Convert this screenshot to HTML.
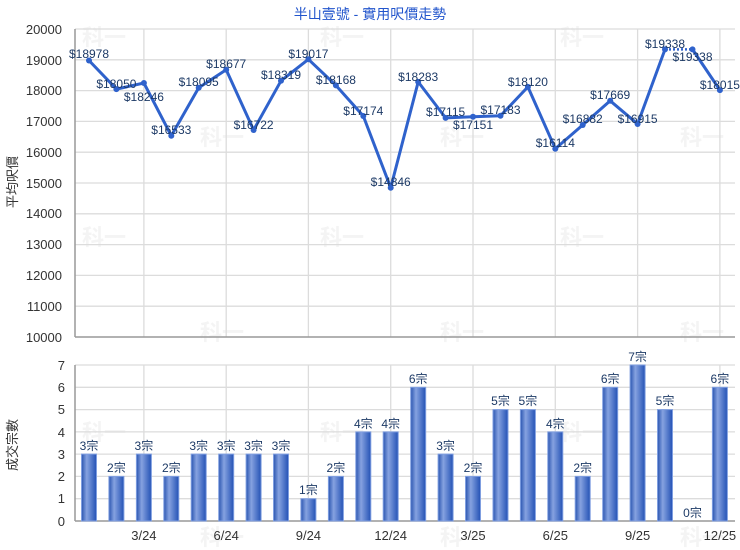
<!DOCTYPE html>
<html><head><meta charset="utf-8"><style>
body{margin:0;background:#fff;}
svg{display:block;font-family:"Liberation Sans","Noto Sans CJK TC",sans-serif;}
.g{stroke:#dcdcdc;stroke-width:1.3}
.t{font-size:13px;fill:#333;text-anchor:end}
.x{font-size:13px;fill:#333;text-anchor:middle}
.l{font-size:12px;fill:#1d3a66;text-anchor:middle}
.b{font-size:12px;fill:#1d3a66;text-anchor:middle}
.w{font-size:22px;fill:#f4f4f4;font-weight:bold}
</style></head><body>
<svg width="740" height="550" viewBox="0 0 740 550">
<defs><linearGradient id="bg" x1="0" x2="1" y1="0" y2="0">
<stop offset="0" stop-color="#2a55b0"/><stop offset="0.35" stop-color="#86a2e0"/><stop offset="1" stop-color="#2452b5"/></linearGradient></defs>
<text x="370" y="19" text-anchor="middle" font-size="14" fill="#2255cc">半山壹號 - 實用呎價走勢</text>
<g class="w">
<text x="82" y="45">科一</text><text x="320" y="45">科一</text><text x="560" y="45">科一</text>
<text x="200" y="145">科一</text><text x="440" y="145">科一</text><text x="680" y="145">科一</text>
<text x="82" y="245">科一</text><text x="320" y="245">科一</text><text x="560" y="245">科一</text>
<text x="200" y="340">科一</text><text x="440" y="340">科一</text><text x="680" y="340">科一</text>
<text x="82" y="440">科一</text><text x="320" y="440">科一</text><text x="560" y="440">科一</text>
<text x="200" y="545">科一</text><text x="440" y="545">科一</text><text x="680" y="545">科一</text>
</g>
<g class="g">
<line x1="75" x2="735" y1="29" y2="29"/><line x1="75" x2="735" y1="59.8" y2="59.8"/><line x1="75" x2="735" y1="90.6" y2="90.6"/><line x1="75" x2="735" y1="121.4" y2="121.4"/><line x1="75" x2="735" y1="152.2" y2="152.2"/><line x1="75" x2="735" y1="183" y2="183"/><line x1="75" x2="735" y1="213.8" y2="213.8"/><line x1="75" x2="735" y1="244.6" y2="244.6"/><line x1="75" x2="735" y1="275.4" y2="275.4"/><line x1="75" x2="735" y1="306.2" y2="306.2"/>
<line x1="143.9" x2="143.9" y1="29" y2="337"/><line x1="226.2" x2="226.2" y1="29" y2="337"/><line x1="308.4" x2="308.4" y1="29" y2="337"/><line x1="390.7" x2="390.7" y1="29" y2="337"/><line x1="473" x2="473" y1="29" y2="337"/><line x1="555.3" x2="555.3" y1="29" y2="337"/><line x1="637.6" x2="637.6" y1="29" y2="337"/><line x1="719.9" x2="719.9" y1="29" y2="337"/>
<line x1="75" x2="735" y1="365" y2="365"/><line x1="75" x2="735" y1="387.3" y2="387.3"/><line x1="75" x2="735" y1="409.6" y2="409.6"/><line x1="75" x2="735" y1="431.9" y2="431.9"/><line x1="75" x2="735" y1="454.1" y2="454.1"/><line x1="75" x2="735" y1="476.4" y2="476.4"/><line x1="75" x2="735" y1="498.7" y2="498.7"/>
<line x1="143.9" x2="143.9" y1="365" y2="521"/><line x1="226.2" x2="226.2" y1="365" y2="521"/><line x1="308.4" x2="308.4" y1="365" y2="521"/><line x1="390.7" x2="390.7" y1="365" y2="521"/><line x1="473" x2="473" y1="365" y2="521"/><line x1="555.3" x2="555.3" y1="365" y2="521"/><line x1="637.6" x2="637.6" y1="365" y2="521"/><line x1="719.9" x2="719.9" y1="365" y2="521"/>
</g>
<g stroke="#999" stroke-width="1.5"><line x1="75" x2="75" y1="29" y2="337"/><line x1="75" x2="735" y1="337" y2="337"/><line x1="75" x2="75" y1="365" y2="521"/><line x1="75" x2="735" y1="521" y2="521"/></g>
<g class="t">
<text x="62" y="34">20000</text><text x="62" y="65">19000</text><text x="62" y="95">18000</text><text x="62" y="126">17000</text><text x="62" y="157">16000</text><text x="62" y="188">15000</text><text x="62" y="218">14000</text><text x="62" y="249">13000</text><text x="62" y="280">12000</text><text x="62" y="311">11000</text><text x="62" y="342">10000</text>
<text x="65" y="370">7</text><text x="65" y="392">6</text><text x="65" y="414">5</text><text x="65" y="437">4</text><text x="65" y="459">3</text><text x="65" y="481">2</text><text x="65" y="503">1</text><text x="65" y="526">0</text>
</g>
<text transform="translate(17,182) rotate(-90)" text-anchor="middle" font-size="13" fill="#333">平均呎價</text>
<text transform="translate(17,445) rotate(-90)" text-anchor="middle" font-size="13" fill="#333">成交宗數</text>
<g class="x"><text x="143.9" y="540">3/24</text><text x="226.2" y="540">6/24</text><text x="308.4" y="540">9/24</text><text x="390.7" y="540">12/24</text><text x="473" y="540">3/25</text><text x="555.3" y="540">6/25</text><text x="637.6" y="540">9/25</text><text x="719.9" y="540">12/25</text></g>
<polyline fill="none" stroke="#2f62cc" stroke-width="3" stroke-linejoin="round" points="89,60.5 116.4,89.1 143.9,83 171.3,135.8 198.7,87.7 226.2,69.7 253.6,130 281,80.8 308.4,59.3 335.9,85.4 363.3,116 390.7,187.7 418.2,81.9 445.6,117.9 473,116.7 500.5,115.8 527.9,86.9 555.3,148.7 582.7,125 610.2,100.8 637.6,124 665,49.4"/>
<line x1="665" y1="49.4" x2="692.5" y2="49.4" stroke="#2f62cc" stroke-width="2.5" stroke-dasharray="2,2"/>
<line x1="692.5" y1="49.4" x2="719.9" y2="90.1" stroke="#2f62cc" stroke-width="3"/>
<g fill="#2f62cc">
<circle cx="89" cy="60.5" r="3"/><circle cx="116.4" cy="89.1" r="3"/><circle cx="143.9" cy="83" r="3"/><circle cx="171.3" cy="135.8" r="3"/><circle cx="198.7" cy="87.7" r="3"/><circle cx="226.2" cy="69.7" r="3"/><circle cx="253.6" cy="130" r="3"/><circle cx="281" cy="80.8" r="3"/><circle cx="308.4" cy="59.3" r="3"/><circle cx="335.9" cy="85.4" r="3"/><circle cx="363.3" cy="116" r="3"/><circle cx="390.7" cy="187.7" r="3"/><circle cx="418.2" cy="81.9" r="3"/><circle cx="445.6" cy="117.9" r="3"/><circle cx="473" cy="116.7" r="3"/><circle cx="500.5" cy="115.8" r="3"/><circle cx="527.9" cy="86.9" r="3"/><circle cx="555.3" cy="148.7" r="3"/><circle cx="582.7" cy="125" r="3"/><circle cx="610.2" cy="100.8" r="3"/><circle cx="637.6" cy="124" r="3"/><circle cx="665" cy="49.4" r="3"/><circle cx="692.5" cy="49.4" r="3"/><circle cx="719.9" cy="90.1" r="3"/>
</g>
<g class="l">
<text x="89" y="58">$18978</text><text x="116.4" y="88">$18050</text><text x="143.9" y="101">$18246</text><text x="171.3" y="134">$16533</text><text x="198.7" y="86">$18095</text><text x="226.2" y="68">$18677</text><text x="253.6" y="129">$16722</text><text x="281" y="79">$18319</text><text x="308.4" y="58">$19017</text><text x="335.9" y="84">$18168</text><text x="363.3" y="115">$17174</text><text x="390.7" y="186">$14846</text><text x="418.2" y="81">$18283</text><text x="445.6" y="116">$17115</text><text x="473" y="129">$17151</text><text x="500.5" y="114">$17183</text><text x="527.9" y="86">$18120</text><text x="555.3" y="147">$16114</text><text x="582.7" y="123">$16882</text><text x="610.2" y="99">$17669</text><text x="637.6" y="123">$16915</text><text x="665" y="48">$19338</text><text x="692.5" y="61">$19338</text><text x="719.9" y="89">$18015</text>
</g>
<g fill="url(#bg)" stroke="#7f9ee0" stroke-width="1">
<rect x="81.5" y="454.1" width="15" height="66.9"/><rect x="108.9" y="476.4" width="15" height="44.6"/><rect x="136.4" y="454.1" width="15" height="66.9"/><rect x="163.8" y="476.4" width="15" height="44.6"/><rect x="191.2" y="454.1" width="15" height="66.9"/><rect x="218.7" y="454.1" width="15" height="66.9"/><rect x="246.1" y="454.1" width="15" height="66.9"/><rect x="273.5" y="454.1" width="15" height="66.9"/><rect x="300.9" y="498.7" width="15" height="22.3"/><rect x="328.4" y="476.4" width="15" height="44.6"/><rect x="355.8" y="431.9" width="15" height="89.1"/><rect x="383.2" y="431.9" width="15" height="89.1"/><rect x="410.7" y="387.3" width="15" height="133.7"/><rect x="438.1" y="454.1" width="15" height="66.9"/><rect x="465.5" y="476.4" width="15" height="44.6"/><rect x="493" y="409.6" width="15" height="111.4"/><rect x="520.4" y="409.6" width="15" height="111.4"/><rect x="547.8" y="431.9" width="15" height="89.1"/><rect x="575.2" y="476.4" width="15" height="44.6"/><rect x="602.7" y="387.3" width="15" height="133.7"/><rect x="630.1" y="365" width="15" height="156"/><rect x="657.5" y="409.6" width="15" height="111.4"/><rect x="712.4" y="387.3" width="15" height="133.7"/>
</g>
<g class="b">
<text x="89" y="450">3宗</text><text x="116.4" y="472">2宗</text><text x="143.9" y="450">3宗</text><text x="171.3" y="472">2宗</text><text x="198.7" y="450">3宗</text><text x="226.2" y="450">3宗</text><text x="253.6" y="450">3宗</text><text x="281" y="450">3宗</text><text x="308.4" y="494">1宗</text><text x="335.9" y="472">2宗</text><text x="363.3" y="428">4宗</text><text x="390.7" y="428">4宗</text><text x="418.2" y="383">6宗</text><text x="445.6" y="450">3宗</text><text x="473" y="472">2宗</text><text x="500.5" y="405">5宗</text><text x="527.9" y="405">5宗</text><text x="555.3" y="428">4宗</text><text x="582.7" y="472">2宗</text><text x="610.2" y="383">6宗</text><text x="637.6" y="361">7宗</text><text x="665" y="405">5宗</text><text x="692.5" y="517">0宗</text><text x="719.9" y="383">6宗</text>
</g>
</svg>
</body></html>
